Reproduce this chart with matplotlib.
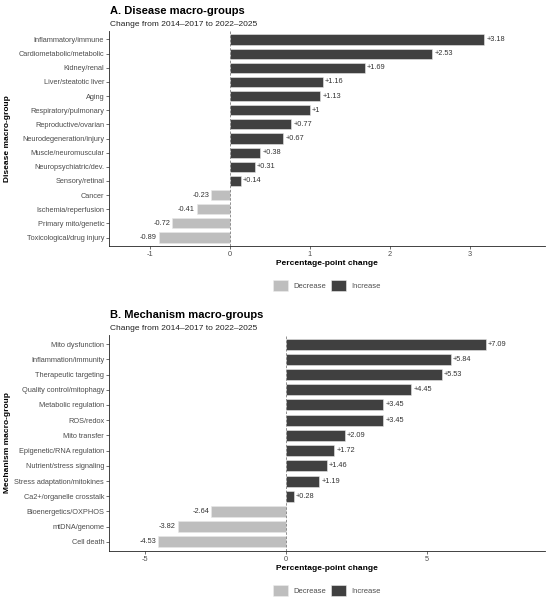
import matplotlib
matplotlib.use("Agg")
import matplotlib.pyplot as plt
from matplotlib.patches import Patch

plt.rcParams['font.family'] = ['Liberation Sans', 'DejaVu Sans']

# panel A data
disease_groups = ["Inflammatory/immune", "Cardiometabolic/metabolic", "Kidney/renal",
                  "Liver/steatotic liver", "Aging", "Respiratory/pulmonary",
                  "Reproductive/ovarian", "Neurodegeneration/injury", "Muscle/neuromuscular",
                  "Neuropsychiatric/dev.", "Sensory/retinal", "Cancer",
                  "Ischemia/reperfusion", "Primary mito/genetic", "Toxicological/drug injury"]
disease_change = [3.18, 2.53, 1.69, 1.16, 1.13, 1.0, 0.77, 0.67, 0.38, 0.31, 0.14,
                  -0.23, -0.41, -0.72, -0.89]

# panel B data
mechanism_groups = ["Mito dysfunction", "Inflammation/immunity", "Therapeutic targeting",
                    "Quality control/mitophagy", "Metabolic regulation", "ROS/redox",
                    "Mito transfer", "Epigenetic/RNA regulation", "Nutrient/stress signaling",
                    "Stress adaptation/mitokines", "Ca2+/organelle crosstalk",
                    "Bioenergetics/OXPHOS", "mtDNA/genome", "Cell death"]
mechanism_change = [7.09, 5.84, 5.53, 4.45, 3.45, 3.45, 2.09, 1.72, 1.46, 1.19, 0.28,
                    -2.64, -3.82, -4.53]

INC = "#404040"
DEC = "#BEBEBE"
W, H = 550, 602


def fx(px):
    return px / W


def fy(py):
    return 1 - py / H


def draw_panel(top, bottom, labels, values, xlim, xticks, title, ylabel, legend_y):
    ax = plt.gcf().add_axes([fx(109), fy(bottom), fx(545) - fx(109), fy(top) - fy(bottom)])
    n = len(labels)
    ypos = list(range(n))[::-1]
    colors = [INC if v > 0 else DEC for v in values]
    ax.barh(ypos, values, height=0.72, color=colors, edgecolor="#e8e8e8", linewidth=0.4, zorder=2)
    ax.axvline(0, color="#7f7f7f", linestyle=(0, (3, 2)), linewidth=0.6, zorder=3)
    for y, v in zip(ypos, values):
        if v > 0:
            ax.annotate(f"+{v:g}", (v, y), xytext=(1.5, 0), textcoords="offset points",
                        ha="left", va="center", fontsize=5.3, color="#333333")
        else:
            ax.annotate(f"{v:g}", (v, y), xytext=(-1.5, 0), textcoords="offset points",
                        ha="right", va="center", fontsize=5.3, color="#333333")
    ax.set_ylim(-0.6, n - 0.4)
    ax.set_xlim(*xlim)
    ax.set_yticks(ypos)
    ax.set_yticklabels(labels)
    ax.set_xticks(xticks)
    ax.set_xticklabels([f"{t:g}" for t in xticks])
    ax.tick_params(axis="both", labelsize=5.3, labelcolor="#4d4d4d", color="#333333",
                   length=2, width=0.5, pad=1.5)
    for s in ["top", "right"]:
        ax.spines[s].set_visible(False)
    for s in ["left", "bottom"]:
        ax.spines[s].set_linewidth(0.6)
        ax.spines[s].set_color("#222222")
    ax.set_xlabel("Percentage-point change", fontsize=6, fontweight="bold", labelpad=1.5)
    fig = plt.gcf()
    fig.text(fx(8), fy((top + bottom) / 2), ylabel, rotation=90, ha="center", va="center",
             fontsize=6, fontweight="bold")
    fig.text(fx(110), fy(top - 17.5), title, ha="left", va="baseline",
             fontsize=8, fontweight="bold")
    fig.text(fx(110), fy(top - 5.5), "Change from 2014\u20132017 to 2022\u20132025",
             ha="left", va="baseline", fontsize=6, color="#222222")
    handles = [Patch(facecolor=DEC, edgecolor="#eeeeee", linewidth=0.4, label="Decrease"),
               Patch(facecolor=INC, edgecolor="#eeeeee", linewidth=0.4, label="Increase")]
    fig.legend(handles=handles, loc="center", bbox_to_anchor=(fx(327), fy(legend_y)),
               ncol=2, frameon=False, fontsize=5.5, handlelength=1.9, handleheight=1.85,
               handletextpad=0.7, columnspacing=0.7, labelcolor="#4d4d4d")
    return ax


fig = plt.figure(figsize=(5.5, 6.02), dpi=100)
draw_panel(31, 246, disease_groups, disease_change, (-1.51, 3.94), [-1, 0, 1, 2, 3],
           "A. Disease macro-groups", "Disease macro-group", 285.7)
draw_panel(335, 551, mechanism_groups, mechanism_change, (-6.27, 9.19), [-5, 0, 5],
           "B. Mechanism macro-groups", "Mechanism macro-group", 590.7)

fig.savefig("out.png", dpi=100)
